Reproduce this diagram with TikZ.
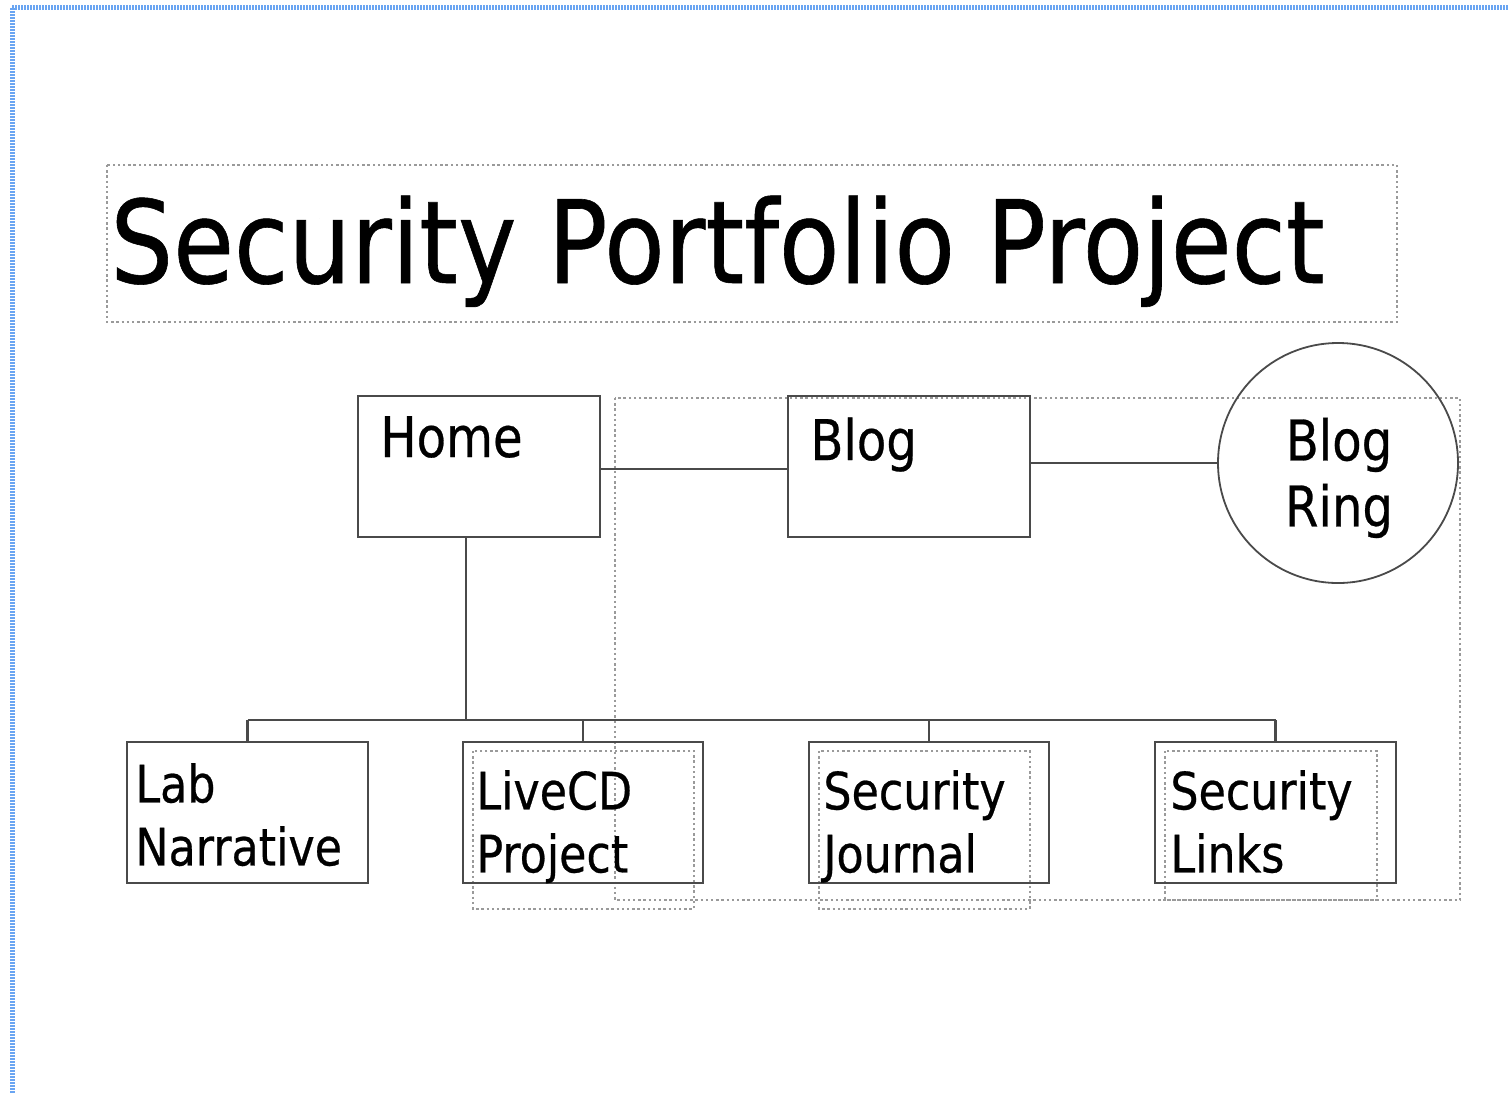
\documentclass[tikz,border=0pt]{standalone}
\usepackage{fontspec}
\setmainfont{DejaVu Sans}[FakeStretch=0.86,FakeBold=0.5]
\definecolor{boxgray}{HTML}{4A4A4A}
\definecolor{dotgray}{HTML}{9A9A9A}
\definecolor{pageblue}{HTML}{6AA5F2}
\begin{document}
\begin{tikzpicture}[x=0.5pt,y=-0.5pt,
  pagebox/.style={draw=pageblue,line width=2.5pt,dash pattern=on 1pt off 0.5pt},
  dotbox/.style={draw=dotgray,line width=0.7pt,dash pattern=on 1.2pt off 1.4pt},
  sitebox/.style={draw=boxgray,line width=1.1pt,rectangle,inner sep=0pt,minimum width=121pt,minimum height=70.5pt},
  ringbox/.style={draw=boxgray,line width=0.9pt,circle,inner sep=0pt,minimum size=120pt},
  link/.style={draw=boxgray,line width=1.1pt},
  bigtxt/.style={inner sep=0pt,font=\fontsize{28}{33}\selectfont},
  smalltxt/.style={inner sep=0pt,align=left,font=\fontsize{25.8}{31.5}\selectfont},
  titletxt/.style={inner sep=0pt,font=\fontsize{57.5}{66}\selectfont}]
\useasboundingbox (0,0) rectangle (1509,1093);
\fill[white] (0,0) rectangle (1509,1093);
\draw[pagebox] (12,1093) -- (12,7) -- (1509,7);
% dotted frames
\draw[dotbox] (107,165) rectangle (1397,322);
\draw[dotbox] (615,398) rectangle (1460,900);
\draw[dotbox] (473,751) rectangle (694,909);
\draw[dotbox] (819,751) rectangle (1030,909);
\draw[dotbox] (1165,751) rectangle (1377,900);
% title
\node[titletxt,anchor=base west] (title) at (110,283) {Security Portfolio Project};
% boxes
\node[sitebox] (home) at (479,466.5) {};
\node[sitebox] (blog) at (909,466.5) {};
\node[ringbox] (ring) at (1338,463) {};
\node[sitebox,minimum width=120.5pt] (lab) at (247.5,812.5) {};
\node[sitebox,minimum width=120pt] (livecd) at (583,812.5) {};
\node[sitebox,minimum width=120pt] (journal) at (929,812.5) {};
\node[sitebox,minimum width=120.5pt] (links) at (1275.5,812.5) {};
% texts
\node[bigtxt,anchor=base west] (hometext) at (380,457) {Home};
\node[bigtxt,anchor=base west] (blogtext) at (810,460) {Blog};
\node[bigtxt,align=center,anchor=north] (ringtext) at (1339,413.8) {\strut Blog\\\strut Ring};
\node[smalltxt,anchor=north west] (labtext) at (135,757.9) {\strut Lab\\\strut Narrative};
\node[smalltxt,anchor=north west] (livecdtext) at (476,764.9) {\strut LiveCD\\\strut Project};
\node[smalltxt,anchor=north west] (journaltext) at (823,764.9) {\strut Security\\\strut Journal};
\node[smalltxt,anchor=north west] (linkstext) at (1170,764.9) {\strut Security\\\strut Links};
% connectors
\coordinate (bus) at (0,720);
\draw[link] ([yshift=-1.25pt]home.east) -- ([yshift=-1.25pt]blog.west);
\draw[link] (blog.east |- ring.west) -- (ring.west);
\draw[link] ([xshift=-6.5pt]home.south) -- ([xshift=-6.5pt]home.south |- bus);
\draw[link] (lab.north |- bus) -- (links.north |- bus);
\draw[link] (lab.north) -- (lab.north |- bus);
\draw[link] (livecd.north) -- (livecd.north |- bus);
\draw[link] (journal.north) -- (journal.north |- bus);
\draw[link] (links.north) -- (links.north |- bus);
\end{tikzpicture}
\end{document}
